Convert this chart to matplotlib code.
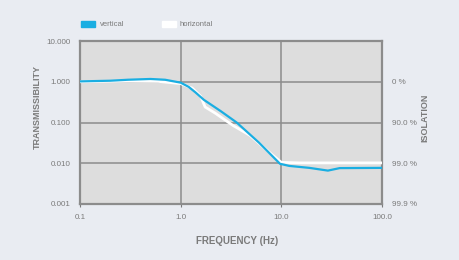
import matplotlib
matplotlib.use("Agg")
import matplotlib.pyplot as plt

# readings from the reference chart
freq_vertical = [0.1, 0.2, 0.3, 0.5, 0.7, 1.0, 1.2, 1.4, 1.7, 2.5, 3.6, 6.0, 9.7, 12, 19, 29, 38, 100]
trans_vertical = [1.02, 1.06, 1.12, 1.17, 1.12, 0.95, 0.75, 0.55, 0.36, 0.19, 0.10, 0.032, 0.0097,
                  0.0086, 0.0077, 0.0066, 0.0076, 0.0077]
freq_horizontal = [0.1, 0.3, 0.6, 1.0, 1.3, 1.58, 1.75, 2.2, 3.3, 4.9, 7.7, 10, 15, 100]
trans_horizontal = [1.0, 1.03, 1.02, 0.9, 0.7, 0.44, 0.24, 0.17, 0.085, 0.048, 0.018, 0.0105,
                    0.0102, 0.0102]

y_ticks = [0.001, 0.01, 0.1, 1, 10]
y_labels = ["0.001", "0.010", "0.100", "1.000", "10.000"]
iso_ticks = [0.001, 0.01, 0.1, 1]
iso_labels = ["99.9 %", "99.0 %", "90.0 %", "0 %"]
x_ticks = [0.1, 1, 10, 100]
x_labels = ["0.1", "1.0", "10.0", "100.0"]

plt.rcParams['font.family'] = ['Liberation Sans', 'DejaVu Sans']
bg = "#e9ecf2"
txt = "#7a7a7a"
grid = "#8c8c8c"
W, H = 460, 260

fig = plt.figure(figsize=(4.6, 2.6), dpi=100, facecolor=bg)
ax = fig.add_axes([80 / W, 1 - 204 / H, 302 / W, 163 / H])
ax.set_facecolor("#dddddd")

ax.plot(freq_horizontal, trans_horizontal, color="white", lw=2.0, zorder=3)
ax.plot(freq_vertical, trans_vertical, color="#1aaee2", lw=1.6, zorder=4)

ax.set_xscale("log")
ax.set_yscale("log")
ax.set_xlim(0.1, 100)
ax.set_ylim(0.001, 10)
ax.set_xticks(x_ticks, x_labels)
ax.set_yticks(y_ticks, y_labels)
ax.minorticks_off()
ax.grid(True, color=grid, lw=1.1)
ax.set_axisbelow(True)
for s in ax.spines.values():
    s.set_color(grid)
    s.set_linewidth(1.6)
ax.tick_params(colors=txt, labelsize=5.8, length=2, width=0.8, pad=5)
ax.tick_params(axis="y", length=0, pad=7)

ax2 = ax.twinx()
ax2.set_yscale("log")
ax2.set_ylim(0.001, 10)
ax2.set_yticks(iso_ticks, iso_labels)
ax2.minorticks_off()
ax2.tick_params(colors=txt, labelsize=5.8, length=0, pad=7)
for s in ax2.spines.values():
    s.set_visible(False)

fig.text(237 / W, 1 - 241 / H, "FREQUENCY (Hz)", color=txt, fontsize=7, fontweight="bold",
         ha="center", va="center")
fig.text(37 / W, 1 - 107 / H, "TRANSMISSIBILITY", color=txt, fontsize=6.5, fontweight="bold",
         ha="center", va="center", rotation=90)
fig.text(425 / W, 1 - 118 / H, "ISOLATION", color=txt, fontsize=6.5, fontweight="bold",
         ha="center", va="center", rotation=90)

# legend
fig.patches.append(plt.Rectangle((81 / W, 1 - 27 / H), 14 / W, 6 / H,
                                 transform=fig.transFigure, color="#1aaee2"))
fig.text(100 / W, 1 - 24 / H, "vertical", color=txt, fontsize=5.5, va="center")
fig.patches.append(plt.Rectangle((162 / W, 1 - 27 / H), 14 / W, 6 / H,
                                 transform=fig.transFigure, color="white"))
fig.text(180 / W, 1 - 24 / H, "horizontal", color=txt, fontsize=5.5, va="center")

fig.savefig("out.png", dpi=100, facecolor=bg)
